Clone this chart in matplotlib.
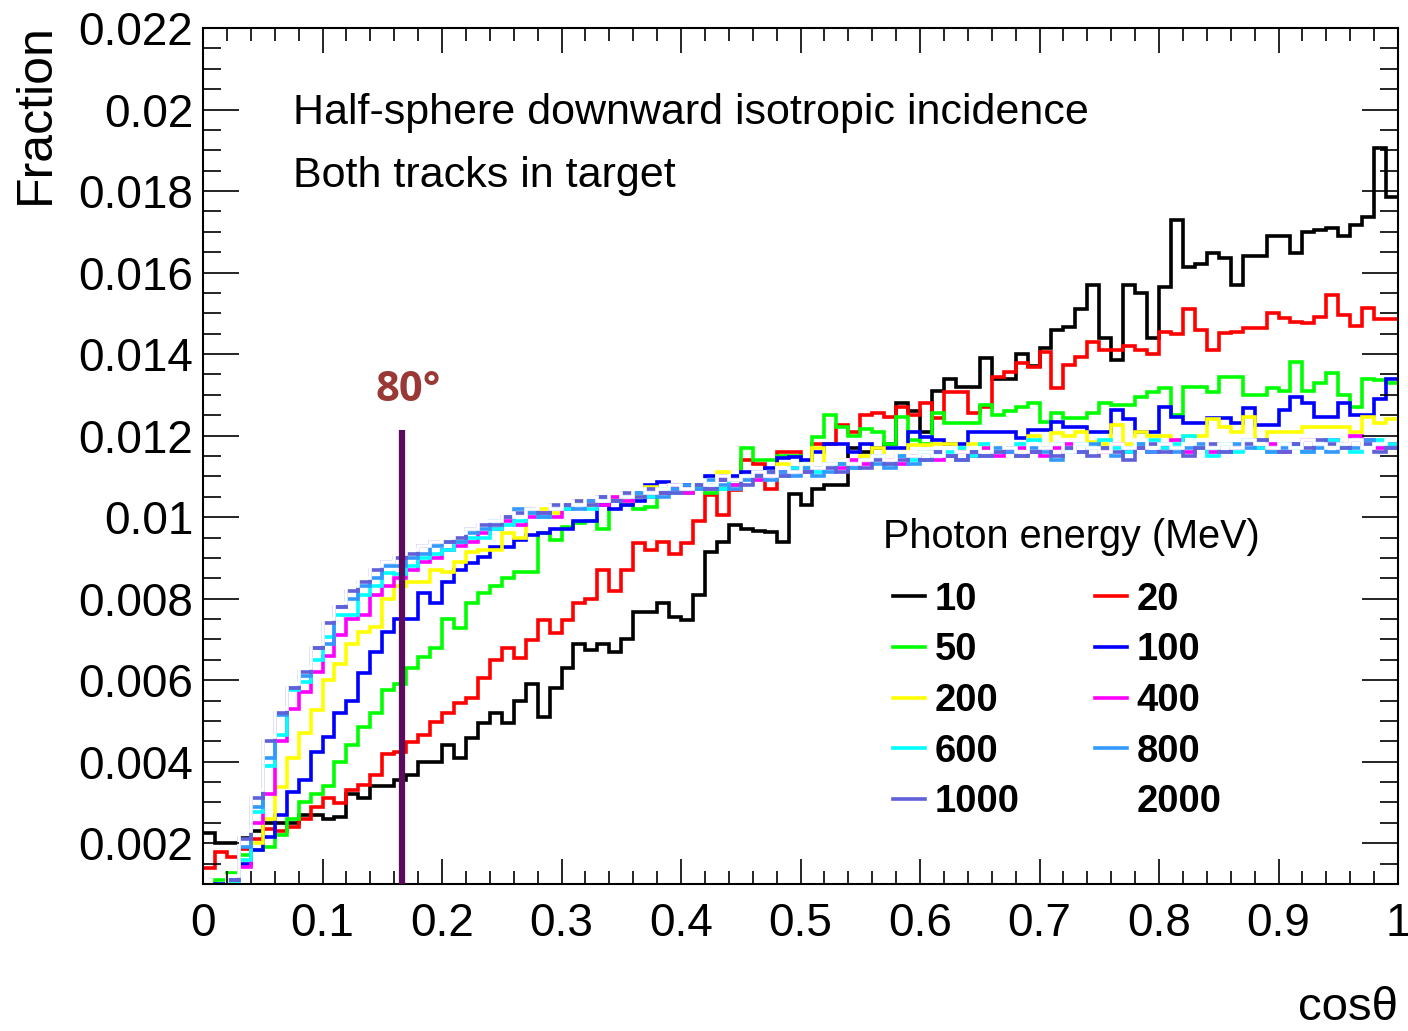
import numpy as np
import matplotlib
matplotlib.use("Agg")
import matplotlib.pyplot as plt
from matplotlib.ticker import MultipleLocator, FuncFormatter

plt.rcParams['font.family'] = ['Liberation Sans', 'DejaVu Sans']

# bin edges in cos(theta), 100 bins
edges = np.linspace(0.0, 1.0, 101)

energies = ['10', '20', '50', '100', '200', '400', '600', '800', '1000', '2000']
colors = ['#000000', '#ff0000', '#00ff00', '#0000ff', '#ffff00',
          '#ff00ff', '#00ffff', '#3399ff', '#6060d8', '#ffffff']

h10 = [0.00225, 0.0020, 0.0020, 0.00212, 0.0023, 0.0025, 0.0025, 0.0025, 0.0027, 0.0027,
       0.0026, 0.00265, 0.0032, 0.0031, 0.0034, 0.0034, 0.00355, 0.00367, 0.0040, 0.0040,
       0.0044, 0.0041, 0.00458, 0.00495, 0.0052, 0.00495, 0.0055, 0.0059, 0.0051, 0.0058,
       0.0063, 0.0069, 0.00674, 0.0069, 0.0067, 0.0070, 0.00767, 0.00767, 0.0079, 0.00755,
       0.00747, 0.0081, 0.00914, 0.0094, 0.0098, 0.0097, 0.00966, 0.00963, 0.0094, 0.01056,
       0.0103, 0.0107, 0.0108, 0.0108, 0.0117, 0.0116, 0.0117, 0.0118, 0.0128, 0.0126,
       0.0121, 0.0131, 0.0134, 0.0132, 0.0132, 0.0139, 0.0134, 0.0134, 0.0140, 0.0137,
       0.01415, 0.0146, 0.01466, 0.0151, 0.0157, 0.0144, 0.01385, 0.0157, 0.0155, 0.0144,
       0.01565, 0.0173, 0.01613, 0.0162, 0.01648, 0.01636, 0.0157, 0.0164, 0.0164, 0.0169,
       0.0169, 0.01648, 0.0170, 0.01705, 0.0171, 0.0169, 0.01717, 0.01736, 0.01905, 0.01785]

h20 = [0.00139, 0.00178, 0.00166, 0.00185, 0.0021, 0.00235, 0.0023, 0.0024, 0.0026, 0.00289,
       0.0031, 0.00298, 0.0033, 0.00342, 0.00367, 0.0042, 0.00423, 0.00448, 0.00465, 0.00497,
       0.0052, 0.00544, 0.00556, 0.00605, 0.0065, 0.0068, 0.00654, 0.00698, 0.00747, 0.00715,
       0.00747, 0.0079, 0.0080, 0.0087, 0.0082, 0.0087, 0.00936, 0.0092, 0.0094, 0.0091,
       0.00936, 0.0099, 0.01054, 0.01005, 0.01066, 0.0114, 0.0113, 0.0107, 0.0116, 0.0116,
       0.0112, 0.0118, 0.0118, 0.01226, 0.0121, 0.0125, 0.01256, 0.01245, 0.0127, 0.0125,
       0.0128, 0.01243, 0.01307, 0.01307, 0.01255, 0.0127, 0.01344, 0.01356, 0.01378, 0.01368,
       0.01405, 0.01317, 0.01373, 0.01393, 0.0143, 0.0141, 0.0141, 0.0142, 0.0141, 0.0140,
       0.01454, 0.0145, 0.0151, 0.0146, 0.0141, 0.01452, 0.01455, 0.01464, 0.01464, 0.0150,
       0.01488, 0.01478, 0.01476, 0.0149, 0.01545, 0.01495, 0.0147, 0.01513, 0.01486, 0.01486]

h50 = [0.0009, 0.0011, 0.00126, 0.0017, 0.00183, 0.0019, 0.0022, 0.0026, 0.0030, 0.0032,
       0.0034, 0.0040, 0.0044, 0.00485, 0.0052, 0.00575, 0.0059, 0.0063, 0.00657, 0.0068,
       0.0075, 0.00728, 0.0079, 0.00813, 0.0083, 0.0085, 0.00865, 0.00865, 0.0096, 0.00944,
       0.00976, 0.00985, 0.0099, 0.0097, 0.0104, 0.0103, 0.0102, 0.01025, 0.0107, 0.0107,
       0.0106, 0.0107, 0.0106, 0.0107, 0.0108, 0.0117, 0.0114, 0.0114, 0.0115, 0.0115,
       0.0113, 0.01196, 0.0125, 0.0122, 0.0120, 0.01216, 0.0121, 0.0118, 0.01245, 0.0119,
       0.0118, 0.01255, 0.0123, 0.0123, 0.0123, 0.01275, 0.0125, 0.0126, 0.0127, 0.0128,
       0.01233, 0.01255, 0.01243, 0.01243, 0.01255, 0.0128, 0.01275, 0.01275, 0.01294, 0.01307,
       0.01317, 0.0125, 0.0132, 0.0132, 0.01307, 0.01344, 0.01344, 0.0130, 0.0130, 0.01317,
       0.0131, 0.0138, 0.0131, 0.0133, 0.01353, 0.0130, 0.0127, 0.0134, 0.01336, 0.0133]

h100 = [0.0008, 0.0010, 0.0011, 0.0015, 0.00183, 0.00215, 0.0027, 0.00325, 0.00355, 0.00423,
        0.0046, 0.0052, 0.0055, 0.00617, 0.00669, 0.00718, 0.0075, 0.0075, 0.00813, 0.0079,
        0.0084, 0.0087, 0.00887, 0.00902, 0.00926, 0.00926, 0.00944, 0.00956, 0.0096, 0.0097,
        0.0097, 0.0099, 0.0099, 0.0103, 0.0102, 0.0103, 0.0104, 0.0108, 0.01086, 0.0108,
        0.0108, 0.0108, 0.0110, 0.0110, 0.0110, 0.0111, 0.0111, 0.0112, 0.01145, 0.01147,
        0.0114, 0.0116, 0.0118, 0.0118, 0.0116, 0.0118, 0.0117, 0.0117, 0.0117, 0.0121,
        0.01196, 0.0119, 0.0118, 0.0118, 0.0121, 0.0121, 0.0121, 0.0121, 0.01195, 0.01213,
        0.01213, 0.01233, 0.0122, 0.0122, 0.0121, 0.0121, 0.01263, 0.0124, 0.0121, 0.0121,
        0.0127, 0.01245, 0.0123, 0.0123, 0.01243, 0.01243, 0.0123, 0.01267, 0.01226, 0.01226,
        0.01263, 0.01294, 0.0128, 0.01245, 0.01245, 0.0128, 0.0125, 0.0125, 0.0129, 0.01338]

h200 = [0.0006, 0.0008, 0.0010, 0.0016, 0.0020, 0.0026, 0.00337, 0.0041, 0.0047, 0.00526,
        0.0060, 0.0064, 0.0069, 0.00718, 0.0073, 0.0080, 0.0083, 0.0084, 0.0084, 0.0087,
        0.00865, 0.0089, 0.00914, 0.0092, 0.0092, 0.0096, 0.0095, 0.0102, 0.0102, 0.0101,
        0.0103, 0.0104, 0.0103, 0.0104, 0.0105, 0.0104, 0.0105, 0.01075, 0.0106, 0.0107,
        0.0107, 0.0108, 0.0108, 0.0111, 0.0109, 0.0110, 0.0109, 0.0111, 0.0113, 0.0112,
        0.0112, 0.0117, 0.0113, 0.0114, 0.0113, 0.0115, 0.0117, 0.0114, 0.0116, 0.01177,
        0.01177, 0.0118, 0.0118, 0.0117, 0.0118, 0.0117, 0.0118, 0.0117, 0.0116, 0.0120,
        0.0117, 0.01206, 0.0120, 0.0121, 0.01184, 0.0118, 0.01226, 0.0118, 0.0121, 0.0120,
        0.0120, 0.0119, 0.0120, 0.0120, 0.0124, 0.0122, 0.0121, 0.01245, 0.0118, 0.0121,
        0.0121, 0.0121, 0.0122, 0.0122, 0.0122, 0.0122, 0.0121, 0.01245, 0.0123, 0.0124]

h400 = [0.0005, 0.0007, 0.0009, 0.00141, 0.0025, 0.0032, 0.0045, 0.0053, 0.0057, 0.0062,
        0.0066, 0.0071, 0.0075, 0.0076, 0.0081, 0.0083, 0.0085, 0.0087, 0.0089, 0.0090,
        0.0092, 0.0093, 0.0094, 0.0096, 0.0097, 0.0099, 0.0098, 0.0100, 0.0101, 0.0100,
        0.0102, 0.0103, 0.0104, 0.0103, 0.0105, 0.0104, 0.0106, 0.0105, 0.0106, 0.0107,
        0.0106, 0.0108, 0.0107, 0.0109, 0.0108, 0.0110, 0.0109, 0.0110, 0.0111, 0.0112,
        0.0111, 0.0112, 0.0113, 0.0112, 0.0114, 0.0113, 0.0115, 0.0114, 0.0113, 0.0115,
        0.0116, 0.0114, 0.0115, 0.0116, 0.0115, 0.0117, 0.0115, 0.0116, 0.0117, 0.0116,
        0.0115, 0.0117, 0.0118, 0.0116, 0.0117, 0.0116, 0.0118, 0.0116, 0.0117, 0.0116,
        0.0117, 0.0119, 0.0116, 0.0117, 0.0116, 0.0118, 0.0117, 0.0119, 0.0117, 0.0118,
        0.0116, 0.0118, 0.0119, 0.0118, 0.0119, 0.0117, 0.0120, 0.0119, 0.0117, 0.0118]

h600 = [0.0005, 0.0008, 0.0010, 0.00158, 0.00276, 0.0039, 0.00465, 0.00575, 0.00595, 0.0065,
        0.00705, 0.0076, 0.0076, 0.0081, 0.0083, 0.00862, 0.0086, 0.0088, 0.0090, 0.0091,
        0.0092, 0.0094, 0.0095, 0.0095, 0.0097, 0.0098, 0.0099, 0.0101, 0.0100, 0.0102,
        0.0102, 0.0103, 0.0102, 0.0104, 0.0104, 0.0105, 0.0106, 0.0105, 0.0107, 0.0106,
        0.0107, 0.0108, 0.0108, 0.0107, 0.0109, 0.0110, 0.0110, 0.0111, 0.0110, 0.0112,
        0.0112, 0.0111, 0.0113, 0.0113, 0.0112, 0.0114, 0.0115, 0.0113, 0.0115, 0.0114,
        0.0116, 0.0115, 0.0116, 0.0117, 0.0115, 0.0118, 0.0116, 0.0117, 0.0118, 0.0119,
        0.0117, 0.0118, 0.0116, 0.0118, 0.0117, 0.0119, 0.0117, 0.0116, 0.0118, 0.0119,
        0.0117, 0.0118, 0.0120, 0.0117, 0.0115, 0.0118, 0.0116, 0.0119, 0.0117, 0.0116,
        0.0118, 0.0117, 0.0116, 0.0118, 0.0119, 0.0117, 0.0116, 0.0118, 0.0119, 0.0118]

h800 = [0.0006, 0.0008, 0.0011, 0.0019, 0.0029, 0.0041, 0.00514, 0.0058, 0.0061, 0.0068,
        0.0069, 0.0078, 0.0080, 0.0083, 0.0085, 0.0088, 0.0088, 0.0090, 0.0091, 0.0093,
        0.0094, 0.0094, 0.0096, 0.0097, 0.0099, 0.0100, 0.0102, 0.0101, 0.0100, 0.0102,
        0.0103, 0.0102, 0.0104, 0.0105, 0.0104, 0.0105, 0.0106, 0.0106, 0.0105, 0.0107,
        0.0108, 0.0107, 0.0109, 0.0108, 0.0107, 0.0109, 0.0110, 0.0109, 0.0111, 0.0110,
        0.0112, 0.0110, 0.0111, 0.0113, 0.0112, 0.0114, 0.0113, 0.0112, 0.0115, 0.0113,
        0.0114, 0.0116, 0.0115, 0.0114, 0.0116, 0.0115, 0.0117, 0.0116, 0.0115, 0.0117,
        0.0116, 0.0114, 0.0117, 0.0116, 0.0118, 0.0117, 0.0115, 0.0117, 0.0118, 0.0116,
        0.0118, 0.0116, 0.0117, 0.0118, 0.0117, 0.0116, 0.0118, 0.0117, 0.0119, 0.0116,
        0.0117, 0.0118, 0.0116, 0.0117, 0.0116, 0.0118, 0.0117, 0.0119, 0.0118, 0.0117]

h1000 = [0.0005, 0.0008, 0.0011, 0.0021, 0.0031, 0.0045, 0.0052, 0.0058, 0.0062, 0.0068,
         0.0074, 0.0078, 0.0082, 0.0084, 0.0087, 0.0089, 0.0090, 0.0091, 0.0093, 0.0094,
         0.0094, 0.0095, 0.0097, 0.0098, 0.0098, 0.0100, 0.0101, 0.0102, 0.0101, 0.0103,
         0.0103, 0.0104, 0.0103, 0.0105, 0.0104, 0.0106, 0.0105, 0.0107, 0.0106, 0.0106,
         0.0107, 0.0108, 0.0107, 0.0109, 0.0109, 0.0108, 0.0110, 0.0111, 0.0110, 0.0111,
         0.0111, 0.0112, 0.0112, 0.0111, 0.0113, 0.0112, 0.0114, 0.0113, 0.0114, 0.0115,
         0.0114, 0.0116, 0.0115, 0.0114, 0.0116, 0.0115, 0.0116, 0.0117, 0.0115, 0.0116,
         0.0117, 0.0115, 0.0117, 0.0116, 0.0115, 0.0117, 0.0116, 0.0114, 0.0117, 0.0118,
         0.0116, 0.0117, 0.0115, 0.0117, 0.0118, 0.0116, 0.0117, 0.0118, 0.0119, 0.0117,
         0.0116, 0.0118, 0.0117, 0.0119, 0.0118, 0.0117, 0.0119, 0.0118, 0.0116, 0.0117]

h2000 = [0.0006, 0.0009, 0.0012, 0.0023, 0.0033, 0.0046, 0.0053, 0.0059, 0.0063, 0.0069,
         0.0075, 0.0079, 0.0083, 0.0085, 0.0088, 0.0089, 0.0091, 0.0092, 0.0093, 0.0094,
         0.0095, 0.0096, 0.0097, 0.0099, 0.0099, 0.0101, 0.0100, 0.0102, 0.0103, 0.0102,
         0.0104, 0.0103, 0.0105, 0.0104, 0.0106, 0.0105, 0.0107, 0.0106, 0.0107, 0.0108,
         0.0107, 0.0109, 0.0108, 0.0110, 0.0109, 0.0110, 0.0111, 0.0110, 0.0112, 0.0111,
         0.0113, 0.0112, 0.0113, 0.0114, 0.0113, 0.0114, 0.0115, 0.0114, 0.0116, 0.0115,
         0.0116, 0.0115, 0.0117, 0.0116, 0.0117, 0.0116, 0.0118, 0.0117, 0.0116, 0.0118,
         0.0117, 0.0118, 0.0116, 0.0118, 0.0117, 0.0116, 0.0118, 0.0117, 0.0119, 0.0117,
         0.0118, 0.0117, 0.0118, 0.0119, 0.0117, 0.0118, 0.0117, 0.0119, 0.0118, 0.0117,
         0.0118, 0.0117, 0.0119, 0.0118, 0.0117, 0.0118, 0.0119, 0.0117, 0.0118, 0.0119]

hists = [h10, h20, h50, h100, h200, h400, h600, h800, h1000, h2000]

cut_cos = 0.1665   # marker line (80 deg)
cut_top = 0.01213

fig = plt.figure(figsize=(14.08, 10.31), dpi=100)
ax = fig.add_axes([0.1442, 0.1426, 0.8487, 0.8302])

handles = []
for vals, c, lab in zip(hists, colors, energies):
    st = ax.stairs(vals, edges, baseline=None, color=c, linewidth=2.6, label=lab)
    handles.append(st)

ax.vlines(cut_cos, 0.001, cut_top, color='#5c0a5e', linewidth=4.5, zorder=5)
ax.text(cut_cos + 0.005, 0.0131, '80°', color='#993835', fontsize=30,
        fontweight='bold', family=['Open Sans', 'DejaVu Sans'],
        ha='center', va='center')

ax.set_xlim(0, 1)
ax.set_ylim(0.001, 0.022)

ax.xaxis.set_major_locator(MultipleLocator(0.1))
ax.xaxis.set_minor_locator(MultipleLocator(0.02))
ax.yaxis.set_major_locator(MultipleLocator(0.002))
ax.yaxis.set_minor_locator(MultipleLocator(0.0005))
fmt = FuncFormatter(lambda v, p: f"{round(v, 6):g}")
ax.xaxis.set_major_formatter(fmt)
ax.yaxis.set_major_formatter(fmt)

ax.tick_params(axis='both', which='both', direction='in', top=True, right=True,
               width=1.2, labelsize=33)
ax.tick_params(axis='x', which='major', length=18, pad=13)
ax.tick_params(axis='x', which='minor', length=9.5)
ax.tick_params(axis='y', which='major', length=26, pad=7)
ax.tick_params(axis='y', which='minor', length=13)
for s in ax.spines.values():
    s.set_linewidth(1.5)

fig.text(1398 / 1408, 1.5 / 1031, 'cosθ', fontsize=34, ha='right', va='bottom')
fig.text(13 / 1408, 1 - 23 / 1031, 'Fraction', fontsize=36, rotation=90,
         ha='left', va='top')

ax.text(0.0753, 0.901, 'Half-sphere downward isotropic incidence',
        transform=ax.transAxes, fontsize=31, va='center', ha='left')
ax.text(0.0753, 0.8275, 'Both tracks in target',
        transform=ax.transAxes, fontsize=31, va='center', ha='left')

ax.text(0.569, (884 - 537) / 856, 'Photon energy (MeV)', transform=ax.transAxes,
        fontsize=28.5, va='center', ha='left')

# legend filled row by row
order = [0, 2, 4, 6, 8, 1, 3, 5, 7, 9]
leg = ax.legend([handles[i] for i in order], [energies[i] for i in order],
                ncol=2, loc='upper left', bbox_to_anchor=(0.5774, 0.3533),
                frameon=False, prop={'size': 27.5, 'weight': 'bold'},
                handlelength=0.84, handletextpad=0.26, columnspacing=1.95,
                labelspacing=0.385, borderpad=0, borderaxespad=0)

fig.savefig('out.png', dpi=100)
